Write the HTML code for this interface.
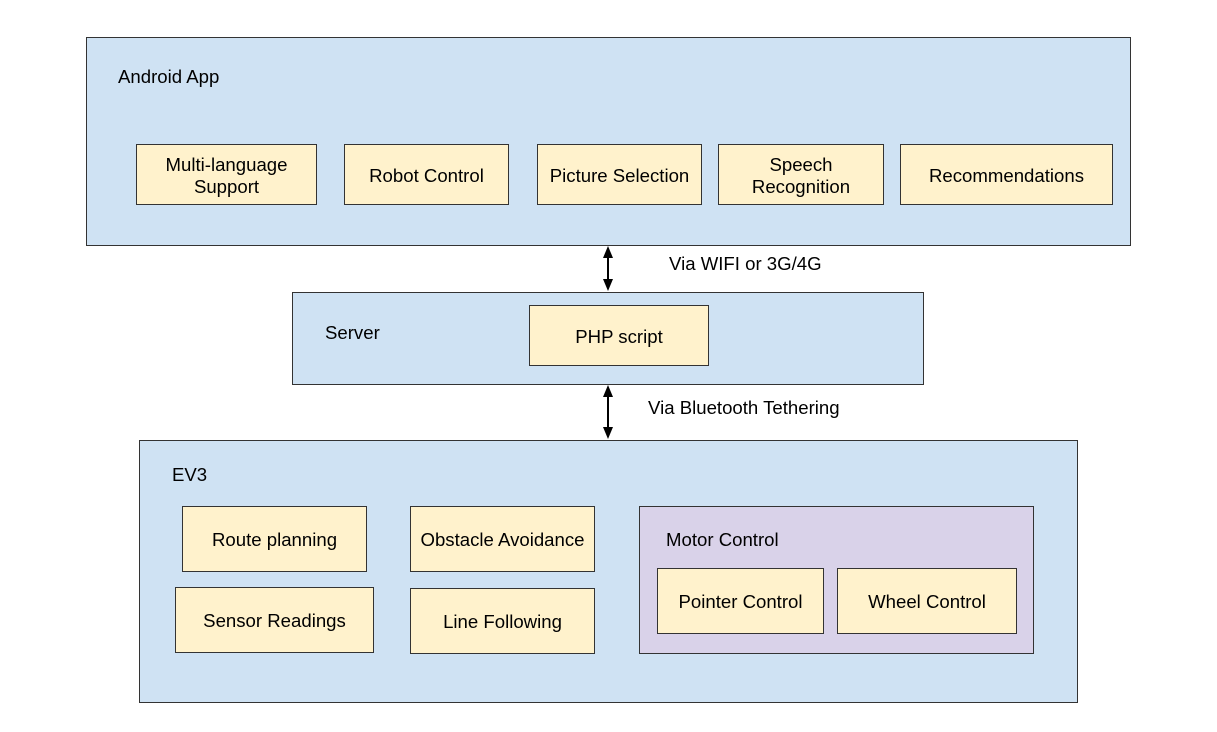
<!DOCTYPE html>
<html><head><style>
body{margin:0;width:1217px;height:732px;background:#fff;font-family:"Liberation Sans",Arial,sans-serif;font-size:18.6px;color:#000;position:relative;overflow:hidden}
.b{position:absolute;box-sizing:border-box;border:1px solid #333}
.blue{background:#cfe2f3}
.y{background:#fff2cc;display:flex;align-items:center;justify-content:center;text-align:center;line-height:22px;padding-top:2px}
.p{background:#d9d2e9}
.t{position:absolute;white-space:nowrap}
</style></head><body>
<div class="b blue" style="left:86px;top:37px;width:1045px;height:209px"></div>
<div class="t" style="left:118px;top:66px">Android App</div>
<div class="b y" style="left:136px;top:144px;width:181px;height:61px">Multi-language<br>Support</div>
<div class="b y" style="left:344px;top:144px;width:165px;height:61px">Robot Control</div>
<div class="b y" style="left:537px;top:144px;width:165px;height:61px">Picture Selection</div>
<div class="b y" style="left:718px;top:144px;width:166px;height:61px">Speech<br>Recognition</div>
<div class="b y" style="left:900px;top:144px;width:213px;height:61px">Recommendations</div>

<div class="b blue" style="left:292px;top:292px;width:632px;height:93px"></div>
<div class="t" style="left:325px;top:322px">Server</div>
<div class="b y" style="left:529px;top:305px;width:180px;height:61px">PHP script</div>

<div class="b blue" style="left:139px;top:440px;width:939px;height:263px"></div>
<div class="t" style="left:172px;top:464px">EV3</div>
<div class="b y" style="left:182px;top:506px;width:185px;height:66px">Route planning</div>
<div class="b y" style="left:410px;top:506px;width:185px;height:66px">Obstacle Avoidance</div>
<div class="b y" style="left:175px;top:587px;width:199px;height:66px">Sensor Readings</div>
<div class="b y" style="left:410px;top:588px;width:185px;height:66px">Line Following</div>
<div class="b p" style="left:639px;top:506px;width:395px;height:148px"></div>
<div class="t" style="left:666px;top:529px">Motor Control</div>
<div class="b y" style="left:657px;top:568px;width:167px;height:66px">Pointer Control</div>
<div class="b y" style="left:837px;top:568px;width:180px;height:66px">Wheel Control</div>

<div class="t" style="left:669px;top:253px">Via WIFI or 3G/4G</div>
<div class="t" style="left:648px;top:397px">Via Bluetooth Tethering</div>
<svg width="1217" height="732" style="position:absolute;left:0;top:0">
<g stroke="#000" stroke-width="2" fill="#000">
<line x1="608" y1="256" x2="608" y2="281"/>
<polygon points="608,246 603,258 613,258" stroke="none"/>
<polygon points="608,291 603,279 613,279" stroke="none"/>
<line x1="608" y1="395" x2="608" y2="429"/>
<polygon points="608,385 603,397 613,397" stroke="none"/>
<polygon points="608,439 603,427 613,427" stroke="none"/>
</g></svg>
</body></html>
